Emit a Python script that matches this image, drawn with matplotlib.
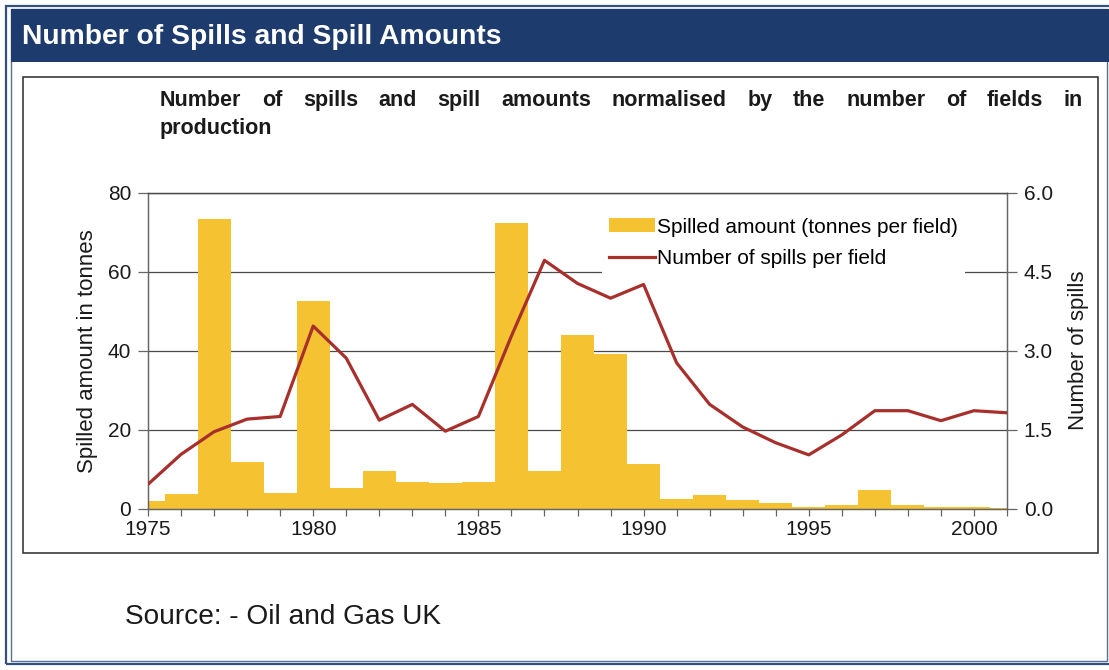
import matplotlib
matplotlib.use("Agg")
import matplotlib.pyplot as plt
from matplotlib.patches import Rectangle, Patch
from matplotlib.lines import Line2D
from matplotlib.ticker import MultipleLocator, FormatStrFormatter

W, H = 1109, 670

NAVY = "#1D3B6C"
BAR = "#F5C231"
LINE = "#A8302C"
GRID = "#4A4A4A"
INK = "#1A1A1A"

plt.rcParams["font.family"] = ["Liberation Sans", "DejaVu Sans"]

years = list(range(1975, 2002))
spilled_tonnes = [1.9, 3.6, 73.4, 11.7, 3.9, 52.5, 5.3, 9.4, 6.8, 6.4,
                  6.7, 72.3, 9.5, 44.0, 39.1, 11.4, 2.3, 3.4, 2.1, 1.4,
                  0.3, 0.8, 4.7, 0.8, 0.3, 0.3, 0.2]
spills_per_field = [0.46, 1.03, 1.46, 1.70, 1.75, 3.47, 2.86, 1.68, 1.98, 1.47,
                    1.75, 3.28, 4.72, 4.28, 4.00, 4.26, 2.77, 1.98, 1.55, 1.25,
                    1.02, 1.40, 1.86, 1.86, 1.67, 1.86, 1.82]
left_ticks = [0, 20, 40, 60, 80]
right_ticks = [0.0, 1.5, 3.0, 4.5, 6.0]
year_labels = [1975, 1980, 1985, 1990, 1995, 2000]


def fx(x):
    return x / W


def fy(y):
    return 1 - y / H


def frame_rect(fig, x0, y0, x1, y1, **kw):
    r = Rectangle((fx(x0), fy(y1)), fx(x1) - fx(x0), fy(y0) - fy(y1),
                  transform=fig.transFigure, **kw)
    fig.add_artist(r)
    return r


def justified(fig, renderer, text, x0, x1, y, **kw):
    # spread the words so the line fills x0..x1, like the justified original
    words = text.split()
    arts = [fig.text(0, fy(y), w, va="baseline", ha="left", **kw) for w in words]
    widths = [a.get_window_extent(renderer).width for a in arts]
    gap = (x1 - x0 - sum(widths)) / (len(words) - 1)
    x = x0
    for a, w in zip(arts, widths):
        a.set_x(fx(x))
        x += w + gap


fig = plt.figure(figsize=(W / 100, H / 100), dpi=100)
fig.patch.set_facecolor("white")

# page frame and header band
frame_rect(fig, 6, 6, 1112, 664, facecolor="none", edgecolor="#34507E", linewidth=1.6)
frame_rect(fig, 11, 9, 1107, 661, facecolor="none", edgecolor="#5A6F96", linewidth=1.0)
frame_rect(fig, 11, 9, 1112, 62, facecolor=NAVY, edgecolor="none")
frame_rect(fig, 23, 77, 1098, 553, facecolor="none", edgecolor="#2A2A2A", linewidth=1.1)

fig.text(fx(22), fy(37), "Number of Spills and Spill Amounts", color="white",
         fontsize=20.3, fontweight="bold", va="center", ha="left")

renderer = fig.canvas.get_renderer()
justified(fig, renderer,
          "Number of spills and spill amounts normalised by the number of fields in",
          160, 1083, 106, fontsize=15.5, fontweight="bold", color=INK)
fig.text(fx(160), fy(134), "production", fontsize=15.5, fontweight="bold",
         color=INK, va="baseline", ha="left")

fig.text(fx(125), fy(617), "Source: - Oil and Gas UK", fontsize=20.2,
         color=INK, va="center", ha="left")

# chart
ax = fig.add_axes([fx(148), fy(508.5), fx(1007) - fx(148), fy(193) - fy(508.5)])
ax2 = ax.twinx()

ax.bar(years, spilled_tonnes, width=1.0, color=BAR, linewidth=0, zorder=2)
ax2.plot(years, spills_per_field, color=LINE, linewidth=2.3, zorder=3)

ax.set_xlim(1975, 2001)
ax.set_ylim(0, 80)
ax2.set_ylim(0, 6)

ax.set_yticks(left_ticks)
ax2.set_yticks(right_ticks)
ax2.yaxis.set_major_formatter(FormatStrFormatter("%.1f"))
ax.set_xticks(year_labels)
ax.xaxis.set_minor_locator(MultipleLocator(1))

ax.set_axisbelow(True)
ax.yaxis.grid(True, color=GRID, linewidth=0.9)
for a in (ax, ax2):
    for s in a.spines.values():
        s.set_color("#666666")
        s.set_linewidth(0.9)
    a.spines["top"].set_color(GRID)

ax.tick_params(axis="y", direction="out", length=7, width=0.9, color="#666666",
               labelsize=15, pad=5, labelcolor=INK)
ax2.tick_params(axis="y", direction="out", length=7, width=0.9, color="#666666",
                labelsize=15, pad=5, labelcolor=INK)
ax.tick_params(axis="x", which="both", direction="out", length=5, width=0.9,
               color="#666666", labelsize=15, pad=3, labelcolor=INK)

ax.set_ylabel("Spilled amount in tonnes", fontsize=16, color=INK, labelpad=7)
ax2.set_ylabel("Number of spills", fontsize=16, color=INK, labelpad=11)

# legend on the twin axis so its white box hides the 60 gridline behind it
handles = [Patch(facecolor=BAR, edgecolor="none"),
           Line2D([], [], color=LINE, linewidth=2.3)]
labels = ["Spilled amount (tonnes per field)", "Number of spills per field"]
leg = ax2.legend(handles, labels, loc="upper left", bbox_to_anchor=(0.528, 0.945),
                 fontsize=15, frameon=True, facecolor="white", edgecolor="none",
                 framealpha=1, fancybox=False, handlelength=2.2, handleheight=0.65,
                 handletextpad=0.12, labelspacing=0.6, borderpad=0.35,
                 borderaxespad=0)

fig.savefig("out.png", dpi=100, facecolor="white")
